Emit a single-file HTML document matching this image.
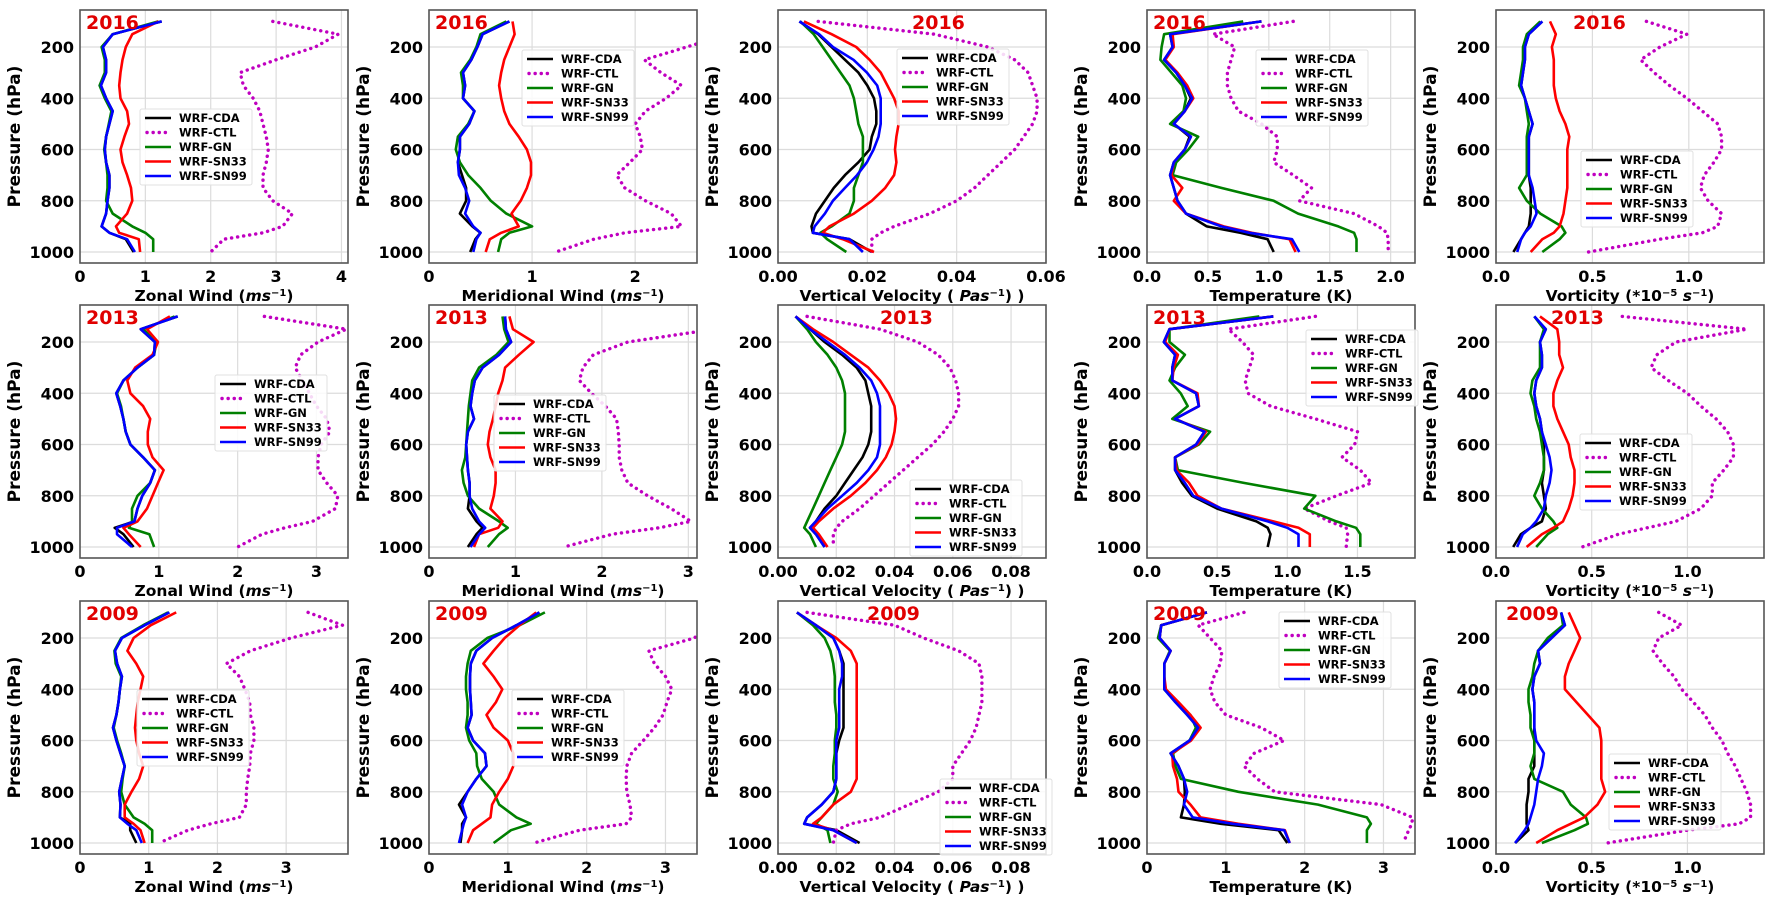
<!DOCTYPE html>
<html><head><meta charset="utf-8">
<style>
html,body{margin:0;padding:0;background:#fff;}
svg{display:block;font-family:"DejaVu Sans","Liberation Sans",sans-serif;}
</style></head>
<body>
<svg id="fig" width="1772" height="900" viewBox="0 0 1772 900" xmlns="http://www.w3.org/2000/svg"></svg>
<script>
const levels = [100,150,200,250,300,350,400,450,500,550,600,650,700,750,800,850,900,925,950,1000];
const seriesNames = ["WRF-CDA","WRF-CTL","WRF-GN","WRF-SN33","WRF-SN99"];
const yTicks = [200,400,600,800,1000];

// Row 1 (2016)
const r1p1_cda=[1.25,0.5,0.35,0.4,0.4,0.32,0.4,0.5,0.45,0.4,0.38,0.4,0.45,0.45,0.42,0.4,0.33,0.45,0.7,0.82];
const r1p1_ctl=[2.95,3.95,3.6,3.0,2.45,2.5,2.65,2.75,2.8,2.85,2.88,2.85,2.8,2.8,2.95,3.25,3.1,2.8,2.2,2.0];
const r1p1_gn=[1.2,0.5,0.33,0.38,0.38,0.3,0.38,0.48,0.44,0.4,0.37,0.4,0.42,0.42,0.4,0.5,0.8,1.0,1.12,1.12];
const r1p1_sn33=[1.2,0.8,0.7,0.65,0.62,0.6,0.62,0.72,0.75,0.68,0.62,0.65,0.72,0.78,0.8,0.72,0.55,0.6,0.9,0.92];
const r1p1_sn99=[1.25,0.5,0.35,0.4,0.4,0.32,0.4,0.5,0.45,0.4,0.38,0.4,0.45,0.45,0.42,0.4,0.33,0.45,0.72,0.84];

const r1p2_cda=[0.78,0.52,0.47,0.41,0.33,0.35,0.33,0.44,0.39,0.30,0.30,0.28,0.32,0.36,0.36,0.3,0.42,0.5,0.45,0.4];
const r1p2_ctl=[3.2,2.9,2.5,2.09,2.25,2.45,2.3,2.1,2.0,2.05,2.07,1.95,1.82,1.9,2.1,2.35,2.45,1.9,1.6,1.23];
const r1p2_gn=[0.75,0.5,0.46,0.4,0.31,0.33,0.33,0.44,0.38,0.28,0.26,0.3,0.38,0.5,0.6,0.75,1.0,0.78,0.7,0.67];
const r1p2_sn33=[0.81,0.83,0.78,0.73,0.7,0.68,0.7,0.73,0.78,0.87,0.95,0.99,0.99,0.95,0.89,0.8,0.87,0.7,0.59,0.55];
const r1p2_sn99=[0.78,0.52,0.47,0.41,0.33,0.35,0.33,0.44,0.39,0.30,0.30,0.28,0.29,0.35,0.39,0.35,0.43,0.5,0.46,0.43];

const r1p3_cda=[0.0048,0.009,0.012,0.015,0.018,0.02,0.0215,0.022,0.022,0.021,0.0205,0.018,0.015,0.0125,0.0105,0.0085,0.0075,0.0078,0.016,0.021];
const r1p3_ctl=[0.009,0.035,0.047,0.053,0.056,0.057,0.058,0.058,0.057,0.055,0.053,0.05,0.047,0.044,0.04,0.034,0.026,0.023,0.021,0.021];
const r1p3_gn=[0.005,0.008,0.01,0.012,0.014,0.016,0.017,0.0175,0.018,0.019,0.019,0.019,0.018,0.017,0.017,0.016,0.012,0.0095,0.011,0.0153];
const r1p3_sn33=[0.0058,0.012,0.0175,0.0205,0.023,0.0245,0.026,0.027,0.027,0.0265,0.0262,0.0265,0.026,0.024,0.021,0.017,0.0115,0.01,0.0145,0.0215];
const r1p3_sn99=[0.0048,0.0092,0.0123,0.0169,0.0199,0.0222,0.023,0.023,0.023,0.0225,0.0214,0.0199,0.0177,0.015,0.0123,0.0105,0.0082,0.0078,0.016,0.019];

const r1p4_cda=[0.94,0.19,0.21,0.14,0.24,0.31,0.36,0.31,0.22,0.35,0.31,0.22,0.19,0.22,0.25,0.32,0.49,0.77,0.99,1.04];
const r1p4_ctl=[1.2,0.54,0.72,0.69,0.66,0.66,0.69,0.75,0.94,1.07,1.07,1.04,1.2,1.35,1.25,1.7,1.9,1.97,1.98,1.98];
const r1p4_gn=[0.79,0.14,0.12,0.11,0.2,0.29,0.32,0.3,0.19,0.42,0.34,0.24,0.21,0.61,1.04,1.24,1.57,1.7,1.72,1.72];
const r1p4_sn33=[0.94,0.21,0.22,0.15,0.25,0.33,0.38,0.31,0.22,0.36,0.31,0.22,0.2,0.29,0.22,0.32,0.63,0.86,1.17,1.22];
const r1p4_sn99=[0.94,0.19,0.21,0.14,0.24,0.31,0.37,0.31,0.22,0.36,0.31,0.22,0.19,0.22,0.25,0.32,0.61,0.84,1.19,1.25];

const r1p5_cda=[0.24,0.17,0.15,0.15,0.14,0.13,0.15,0.17,0.19,0.17,0.17,0.17,0.17,0.18,0.18,0.18,0.17,0.15,0.13,0.09];
const r1p5_ctl=[0.78,0.99,0.85,0.75,0.82,0.9,0.99,1.07,1.15,1.17,1.17,1.13,1.08,1.06,1.1,1.17,1.15,1.07,0.85,0.48];
const r1p5_gn=[0.23,0.16,0.14,0.14,0.13,0.12,0.15,0.16,0.17,0.16,0.16,0.16,0.16,0.12,0.16,0.23,0.34,0.36,0.33,0.24];
const r1p5_sn33=[0.28,0.31,0.29,0.3,0.3,0.3,0.31,0.33,0.36,0.38,0.37,0.37,0.37,0.37,0.36,0.35,0.33,0.3,0.24,0.18];
const r1p5_sn99=[0.24,0.17,0.15,0.15,0.14,0.13,0.15,0.17,0.19,0.17,0.17,0.17,0.17,0.19,0.20,0.21,0.18,0.15,0.13,0.11];

// Row 2 (2013)
const r2p1_cda=[1.24,0.77,0.95,0.94,0.73,0.55,0.46,0.51,0.55,0.58,0.64,0.8,0.95,0.89,0.79,0.73,0.69,0.44,0.55,0.68];
const r2p1_ctl=[2.34,3.38,3.02,2.8,2.73,2.82,2.91,3.0,3.13,3.17,3.06,3.02,3.02,3.13,3.27,3.24,2.95,2.6,2.31,2.0];
const r2p1_gn=[1.2,0.8,0.97,0.94,0.73,0.55,0.47,0.52,0.55,0.58,0.64,0.8,0.95,0.89,0.73,0.66,0.66,0.62,0.88,0.94];
const r2p1_sn33=[1.14,0.85,0.99,0.92,0.7,0.6,0.64,0.8,0.89,0.86,0.86,0.92,1.06,0.99,0.92,0.85,0.73,0.55,0.62,0.77];
const r2p1_sn99=[1.24,0.77,0.95,0.94,0.73,0.55,0.46,0.51,0.55,0.58,0.64,0.8,0.95,0.89,0.79,0.73,0.69,0.47,0.47,0.66];

const r2p2_cda=[0.88,0.89,0.95,0.81,0.62,0.53,0.5,0.48,0.52,0.45,0.43,0.44,0.45,0.47,0.47,0.45,0.55,0.62,0.55,0.45];
const r2p2_ctl=[3.5,3.3,2.3,1.9,1.78,1.74,1.88,2.04,2.17,2.19,2.2,2.2,2.23,2.3,2.53,2.8,3.03,2.66,2.12,1.56];
const r2p2_gn=[0.85,0.87,0.92,0.78,0.58,0.5,0.48,0.46,0.45,0.44,0.43,0.42,0.38,0.4,0.45,0.58,0.81,0.91,0.81,0.68];
const r2p2_sn33=[0.93,0.97,1.21,1.04,0.88,0.85,0.8,0.77,0.74,0.7,0.68,0.71,0.77,0.77,0.75,0.71,0.85,0.8,0.58,0.52];
const r2p2_sn99=[0.88,0.89,0.95,0.81,0.62,0.53,0.5,0.48,0.52,0.45,0.43,0.44,0.45,0.47,0.47,0.5,0.58,0.65,0.58,0.48];

const r2p3_cda=[0.006,0.011,0.016,0.022,0.027,0.03,0.031,0.032,0.032,0.032,0.031,0.029,0.026,0.023,0.02,0.016,0.013,0.011,0.013,0.016];
const r2p3_ctl=[0.01,0.035,0.048,0.055,0.059,0.061,0.062,0.062,0.06,0.057,0.053,0.048,0.043,0.038,0.033,0.028,0.022,0.02,0.019,0.019];
const r2p3_gn=[0.006,0.01,0.013,0.017,0.02,0.022,0.023,0.023,0.023,0.023,0.022,0.02,0.018,0.016,0.014,0.012,0.01,0.009,0.011,0.013];
const r2p3_sn33=[0.006,0.012,0.019,0.025,0.031,0.035,0.038,0.04,0.0405,0.04,0.039,0.037,0.034,0.03,0.025,0.019,0.014,0.012,0.014,0.017];
const r2p3_sn99=[0.006,0.011,0.017,0.023,0.028,0.032,0.034,0.035,0.035,0.035,0.035,0.034,0.031,0.027,0.022,0.017,0.013,0.011,0.013,0.016];

const r2p4_cda=[0.9,0.16,0.12,0.2,0.18,0.18,0.35,0.37,0.2,0.41,0.35,0.2,0.2,0.25,0.32,0.5,0.78,0.86,0.88,0.86];
const r2p4_ctl=[1.2,0.58,0.68,0.76,0.73,0.7,0.72,0.88,1.2,1.5,1.48,1.39,1.52,1.6,1.35,1.12,1.3,1.42,1.43,1.42];
const r2p4_gn=[0.8,0.16,0.16,0.27,0.2,0.16,0.24,0.29,0.18,0.45,0.37,0.2,0.22,0.69,1.2,1.12,1.35,1.49,1.52,1.52];
const r2p4_sn33=[0.9,0.16,0.13,0.22,0.19,0.18,0.36,0.37,0.2,0.42,0.36,0.2,0.21,0.3,0.36,0.53,0.9,1.08,1.16,1.16];
const r2p4_sn99=[0.9,0.16,0.12,0.2,0.18,0.18,0.35,0.37,0.2,0.41,0.35,0.2,0.2,0.27,0.33,0.53,0.86,1.0,1.08,1.08];

const r2p5_cda=[0.2,0.26,0.23,0.24,0.24,0.21,0.2,0.21,0.23,0.24,0.25,0.25,0.25,0.24,0.25,0.26,0.24,0.18,0.13,0.09];
const r2p5_ctl=[0.66,1.31,0.94,0.84,0.81,0.9,1.0,1.07,1.15,1.21,1.24,1.24,1.19,1.13,1.13,1.07,0.94,0.79,0.64,0.45];
const r2p5_gn=[0.2,0.25,0.23,0.23,0.23,0.19,0.18,0.2,0.21,0.23,0.24,0.25,0.25,0.23,0.2,0.24,0.3,0.32,0.27,0.21];
const r2p5_sn33=[0.23,0.32,0.33,0.33,0.35,0.32,0.3,0.3,0.32,0.35,0.38,0.39,0.41,0.41,0.4,0.38,0.35,0.3,0.24,0.16];
const r2p5_sn99=[0.2,0.26,0.23,0.24,0.24,0.21,0.2,0.21,0.23,0.24,0.26,0.28,0.29,0.28,0.26,0.25,0.21,0.18,0.14,0.11];

// Row 3 (2009)
const r3p1_cda=[1.3,0.94,0.61,0.51,0.54,0.61,0.58,0.56,0.53,0.48,0.53,0.59,0.65,0.61,0.57,0.59,0.58,0.73,0.73,0.82];
const r3p1_ctl=[3.32,3.82,3.07,2.48,2.13,2.32,2.4,2.47,2.48,2.53,2.53,2.48,2.47,2.44,2.42,2.42,2.32,1.9,1.57,1.15];
const r3p1_gn=[1.28,0.92,0.6,0.5,0.52,0.6,0.58,0.56,0.53,0.49,0.54,0.6,0.65,0.62,0.6,0.65,0.78,0.94,1.05,1.05];
const r3p1_sn33=[1.4,1.03,0.78,0.69,0.82,0.92,0.88,0.84,0.82,0.8,0.82,0.86,0.92,0.86,0.75,0.65,0.65,0.78,0.88,0.94];
const r3p1_sn99=[1.3,0.94,0.61,0.51,0.54,0.61,0.58,0.56,0.53,0.48,0.53,0.59,0.65,0.61,0.57,0.59,0.58,0.69,0.82,0.9];

const r3p2_cda=[1.4,1.11,0.8,0.6,0.53,0.52,0.52,0.53,0.54,0.49,0.56,0.71,0.73,0.6,0.49,0.38,0.47,0.42,0.42,0.4];
const r3p2_ctl=[3.6,3.5,3.37,2.79,2.86,3.0,3.08,3.02,2.97,2.86,2.72,2.57,2.51,2.5,2.51,2.55,2.57,2.5,1.91,1.33];
const r3p2_gn=[1.47,1.15,0.74,0.53,0.49,0.47,0.47,0.49,0.49,0.47,0.51,0.6,0.61,0.67,0.82,0.89,1.11,1.29,1.04,0.82];
const r3p2_sn33=[1.36,1.15,0.96,0.82,0.69,0.82,0.93,0.85,0.73,0.82,1.0,1.07,1.07,1.0,0.89,0.8,0.78,0.67,0.56,0.49];
const r3p2_sn99=[1.4,1.11,0.8,0.6,0.53,0.52,0.52,0.53,0.54,0.49,0.56,0.71,0.73,0.6,0.49,0.42,0.47,0.44,0.42,0.38];

const r3p3_cda=[0.0065,0.013,0.019,0.021,0.0225,0.0225,0.0225,0.0225,0.0225,0.0225,0.021,0.02,0.02,0.02,0.019,0.015,0.01,0.009,0.02,0.028];
const r3p3_ctl=[0.01,0.04,0.05,0.062,0.069,0.07,0.07,0.07,0.069,0.068,0.066,0.063,0.06,0.06,0.055,0.045,0.035,0.025,0.02,0.019];
const r3p3_gn=[0.0065,0.012,0.016,0.018,0.019,0.0195,0.0195,0.0195,0.02,0.02,0.0195,0.0195,0.019,0.019,0.0205,0.019,0.015,0.013,0.017,0.018];
const r3p3_sn33=[0.0065,0.013,0.02,0.025,0.027,0.027,0.027,0.027,0.027,0.027,0.027,0.027,0.027,0.027,0.025,0.019,0.015,0.012,0.019,0.027];
const r3p3_sn99=[0.0065,0.013,0.019,0.021,0.022,0.022,0.021,0.021,0.021,0.021,0.02,0.02,0.02,0.02,0.019,0.015,0.01,0.009,0.019,0.027];

const r3p4_cda=[0.76,0.18,0.16,0.3,0.22,0.22,0.22,0.36,0.51,0.65,0.54,0.3,0.4,0.47,0.48,0.47,0.43,0.94,1.67,1.78];
const r3p4_ctl=[1.23,0.65,0.8,0.95,0.93,0.85,0.8,0.86,1.0,1.45,1.74,1.36,1.23,1.4,1.62,2.97,3.37,3.36,3.32,3.25];
const r3p4_gn=[0.76,0.18,0.14,0.29,0.22,0.22,0.22,0.38,0.55,0.62,0.54,0.33,0.36,0.43,1.16,2.17,2.79,2.84,2.79,2.79];
const r3p4_sn33=[0.76,0.18,0.16,0.3,0.22,0.22,0.24,0.4,0.55,0.68,0.56,0.32,0.33,0.38,0.4,0.55,0.68,1.16,1.75,1.81];
const r3p4_sn99=[0.76,0.18,0.16,0.3,0.22,0.22,0.22,0.36,0.51,0.65,0.54,0.3,0.4,0.47,0.51,0.47,0.58,1.09,1.74,1.81];

const r3p5_cda=[0.34,0.36,0.29,0.22,0.23,0.2,0.19,0.2,0.2,0.2,0.2,0.2,0.2,0.17,0.17,0.16,0.16,0.16,0.17,0.1];
const r3p5_ctl=[0.85,0.97,0.85,0.82,0.87,0.93,0.97,1.03,1.09,1.13,1.18,1.21,1.25,1.28,1.31,1.33,1.33,1.27,1.0,0.58];
const r3p5_gn=[0.34,0.35,0.27,0.22,0.2,0.19,0.17,0.17,0.18,0.18,0.2,0.2,0.18,0.2,0.35,0.39,0.47,0.48,0.41,0.24];
const r3p5_sn33=[0.38,0.41,0.44,0.41,0.38,0.36,0.36,0.42,0.48,0.54,0.55,0.55,0.55,0.55,0.57,0.53,0.46,0.39,0.32,0.21];
const r3p5_sn99=[0.34,0.36,0.29,0.22,0.23,0.2,0.19,0.2,0.2,0.2,0.21,0.25,0.24,0.22,0.21,0.2,0.18,0.17,0.15,0.1];

const years = ["2016","2013","2009"];
const xMax = [[4.1,2.6,0.06,2.2,1.39],[3.4,3.1,0.092,1.91,1.4],[3.9,3.4,0.092,3.4,1.4]];
const xTickVals = [
 [[0,1,2,3,4],[0,1,2],[0,0.02,0.04,0.06],[0,0.5,1,1.5,2],[0,0.5,1]],
 [[0,1,2,3],[0,1,2,3],[0,0.02,0.04,0.06,0.08],[0,0.5,1,1.5],[0,0.5,1]],
 [[0,1,2,3],[0,1,2,3],[0,0.02,0.04,0.06,0.08],[0,1,2,3],[0,0.5,1]]
];
const tickDecimals = [[0,0,2,1,1],[0,0,2,1,1],[0,0,2,0,1]];
const allData = [
 [[r1p1_cda,r1p1_ctl,r1p1_gn,r1p1_sn33,r1p1_sn99],[r1p2_cda,r1p2_ctl,r1p2_gn,r1p2_sn33,r1p2_sn99],[r1p3_cda,r1p3_ctl,r1p3_gn,r1p3_sn33,r1p3_sn99],[r1p4_cda,r1p4_ctl,r1p4_gn,r1p4_sn33,r1p4_sn99],[r1p5_cda,r1p5_ctl,r1p5_gn,r1p5_sn33,r1p5_sn99]],
 [[r2p1_cda,r2p1_ctl,r2p1_gn,r2p1_sn33,r2p1_sn99],[r2p2_cda,r2p2_ctl,r2p2_gn,r2p2_sn33,r2p2_sn99],[r2p3_cda,r2p3_ctl,r2p3_gn,r2p3_sn33,r2p3_sn99],[r2p4_cda,r2p4_ctl,r2p4_gn,r2p4_sn33,r2p4_sn99],[r2p5_cda,r2p5_ctl,r2p5_gn,r2p5_sn33,r2p5_sn99]],
 [[r3p1_cda,r3p1_ctl,r3p1_gn,r3p1_sn33,r3p1_sn99],[r3p2_cda,r3p2_ctl,r3p2_gn,r3p2_sn33,r3p2_sn99],[r3p3_cda,r3p3_ctl,r3p3_gn,r3p3_sn33,r3p3_sn99],[r3p4_cda,r3p4_ctl,r3p4_gn,r3p4_sn33,r3p4_sn99],[r3p5_cda,r3p5_ctl,r3p5_gn,r3p5_sn33,r3p5_sn99]]
];

// layout (not data)
const colLeft=[80,429,778,1147,1496], rowTop=[10,305,601], PW=268, PH=253;
const colors=["#000000","#c000c0","#008000","#ff0000","#0000ff"];
const yearOff=[[6,6,134,6,77],[6,6,102,6,55],[6,6,89,6,10]];
const legPos=[[[145,118],[527,59],[902,58],[1261,59],[1586,160]],
 [[220,384],[499,404],[915,489],[1311,339],[1585,443]],
 [[142,699],[517,699],[945,788],[1284,621],[1614,763]]];
const titles=["Zonal Wind (","Meridional Wind (","Vertical Velocity ( ","Temperature (K)","Vorticity (*10"];

const NS="http://www.w3.org/2000/svg";
const svg=document.getElementById('fig');
function mk(tag,attrs,parent){const e=document.createElementNS(NS,tag);for(const k in attrs)e.setAttribute(k,attrs[k]);(parent||svg).appendChild(e);return e;}

function titleText(c,t){
  const add=(txt,st)=>{const s=mk('tspan',st||{},t);s.textContent=txt;return s;};
  if(c===0||c===1){add(titles[c]);add('ms',{'font-style':'italic'});add('−1',{'baseline-shift':'super','font-size':'10'});add(')');}
  else if(c===2){add(titles[c]);add('Pas',{'font-style':'italic'});add('−1',{'baseline-shift':'super','font-size':'10'});add(') )');}
  else if(c===3){add(titles[c]);}
  else {add(titles[c]);add('−5',{'baseline-shift':'super','font-size':'10'});add(' ');add('s',{'font-style':'italic'});add('−1',{'baseline-shift':'super','font-size':'10'});add(')');}
}

for(let r=0;r<3;r++){for(let c=0;c<5;c++){
  const L=colLeft[c], T=rowTop[r];
  const xs=v=>L+v/xMax[r][c]*PW;
  const ys=p=>T+11.4+(p-100)*0.25622;
  const g=mk('g',{});
  
  
  const cid='clip'+r+c;
  const cp=mk('clipPath',{id:cid},g); mk('rect',{x:L,y:T,width:PW,height:PH},cp);
  yTicks.forEach(p=>{const ln=mk('line',{x1:L,x2:L+PW,y1:ys(p),y2:ys(p),stroke:'#dcdcdc','stroke-width':1.2},g);
    });
  xTickVals[r][c].forEach(v=>{const ln=mk('line',{x1:xs(v),x2:xs(v),y1:T,y2:T+PH,stroke:'#dcdcdc','stroke-width':1.2},g);
    });
  const lg=mk('g',{'clip-path':'url(#'+cid+')'},g);
  allData[r][c].forEach((arr,i)=>{
    const d=arr.map((v,j)=>(j?'L':'M')+xs(v).toFixed(1)+','+ys(levels[j]).toFixed(1)).join('');
    const a={d:d,fill:'none',stroke:colors[i],'stroke-width':2.6,'stroke-linejoin':'round'};
    if(i===1){a['stroke-dasharray']='0.1 6';a['stroke-linecap']='round';a['stroke-width']=3.4;}
    const pth=mk('path',a,lg);
    
    
  });
  const fr=mk('rect',{x:L,y:T,width:PW,height:PH,fill:'none',stroke:'#555','stroke-width':1.6},g);
  
  yTicks.forEach(p=>{const t=mk('text',{x:L-6,y:ys(p)+6,'text-anchor':'end','font-size':16,'font-weight':'bold',fill:'#000'},g);t.textContent=p;
    });
  xTickVals[r][c].forEach(v=>{const t=mk('text',{x:xs(v),y:T+PH+19,'text-anchor':'middle','font-size':16,'font-weight':'bold',fill:'#000'},g);t.textContent=v.toFixed(tickDecimals[r][c]);
    });
  const yl=mk('text',{x:0,y:0,transform:'translate('+(L-60)+','+(T+PH/2)+') rotate(-90)','text-anchor':'middle','font-size':17,'font-weight':'bold',fill:'#000'},g);
  yl.textContent='Pressure (hPa)';
  
  const xt=mk('text',{x:L+PW/2,y:T+PH+38,'text-anchor':'middle','font-size':15.5,'font-weight':'bold',fill:'#000'},g);
  titleText(c,xt);
  
  const yr=mk('text',{x:L+yearOff[r][c],y:T+19,'font-size':19,'font-weight':'bold',fill:'#e00000'},g);
  yr.textContent=years[r];
  
  const [lx,ly]=legPos[r][c];
  const leg=mk('g',{},g);
  
  const box=mk('rect',{x:lx-5,y:ly-9,width:112,height:76,fill:'#fff','fill-opacity':0.85,stroke:'#e0e0e0','stroke-width':1,rx:2},leg);
  
  seriesNames.forEach((n,i)=>{
    const yy=ly+i*14.5;
    const a={x1:lx,x2:lx+26,y1:yy,y2:yy,stroke:colors[i],'stroke-width':2.6};
    if(i===1){a['stroke-dasharray']='0.1 6';a['stroke-linecap']='round';a['stroke-width']=3.4;a.x1=lx+2;}
    const sl=mk('line',a,leg);
    
    const t=mk('text',{x:lx+34,y:yy+4,'font-size':11.5,'font-weight':'bold',fill:'#000'},leg);t.textContent=n;
    
  });
}}
</script>
</body></html>
